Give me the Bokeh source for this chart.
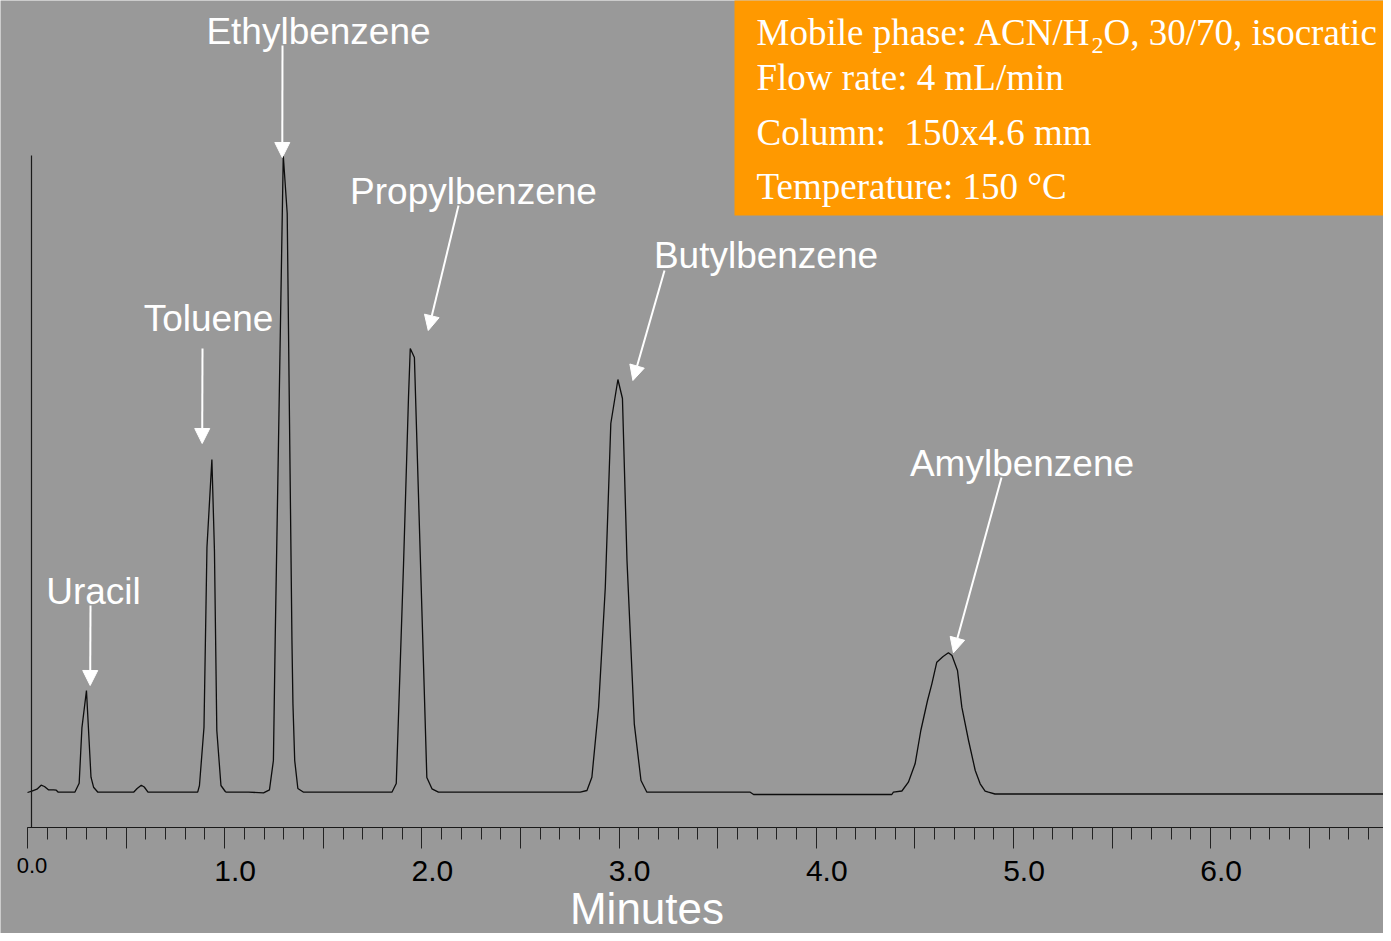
from bokeh.plotting import figure
from bokeh.models import (ColumnDataSource, Range1d, FixedTicker, LabelSet,
                          BoxAnnotation, Arrow, NormalHead, LinearAxis)
from bokeh.core.properties import value
from bokeh.embed import file_html
from bokeh.resources import INLINE

# ---------------- data ----------------
time_min = [0.000, 0.022, 0.048, 0.069, 0.086, 0.106, 0.132, 0.146, 0.156,
            0.240, 0.262, 0.276, 0.299, 0.322, 0.335, 0.357,
            0.538, 0.556, 0.577, 0.592, 0.611,
            0.863, 0.872, 0.895, 0.910, 0.935, 0.948, 0.960, 0.981, 1.003, 1.008,
            1.121, 1.197, 1.227, 1.247, 1.256, 1.297, 1.317, 1.341, 1.346, 1.355, 1.371, 1.400,
            1.848, 1.870, 1.907, 1.932, 1.941, 1.962, 1.983, 2.008, 2.025, 2.051, 2.084,
            2.803, 2.837, 2.862, 2.896, 2.930, 2.958, 2.994, 3.017, 3.040, 3.077, 3.111, 3.141,
            3.665, 3.682, 4.383, 4.391, 4.434, 4.467, 4.501, 4.530, 4.564, 4.586, 4.611,
            4.643, 4.670, 4.688, 4.716, 4.738, 4.772, 4.806, 4.831, 4.856, 4.873, 4.906, 6.920]
signal_mv = [0.00, 0.13, 0.33, 0.73, 0.60, 0.27, 0.27, 0.23, 0.03,
             0.03, 0.93, 6.47, 10.2, 1.53, 0.53, 0.03,
             0.03, 0.40, 0.73, 0.55, 0.03,
             0.03, 0.70, 6.53, 24.5, 33.3, 24.2, 6.2, 0.7, 0.1, 0.03,
             0.03, -0.03, 0.27, 3.2, 15.2, 63.7, 57.9, 15.2, 8.9, 3.2, 0.4, 0.03,
             0.03, 0.9, 22.9, 39.5, 44.4, 43.5, 29.5, 12.9, 1.5, 0.37, 0.03,
             0.03, 0.2, 1.53, 8.53, 20.5, 36.9, 41.3, 39.4, 23.2, 6.87, 1.2, 0.03,
             0.03, -0.2, -0.2, 0.03, 0.15, 1.03, 2.87, 6.2, 9.2, 10.87, 13.03,
             13.6, 13.97, 13.7, 12.2, 8.53, 5.2, 2.2, 0.87, 0.13, 0.03, -0.15, -0.15]

compounds = ["Uracil", "Toluene", "Ethylbenzene", "Propylbenzene", "Butylbenzene", "Amylbenzene"]
retention_min = [0.30, 0.93, 1.30, 1.94, 2.99, 4.67]

tick_values = [0, 1, 2, 3, 4, 5, 6]
tick_labels = ["0.0", "1.0", "2.0", "3.0", "4.0", "5.0", "6.0"]
x_title = "Minutes"

info_main = ["Mobile phase: ACN/H", "O, 30/70, isocratic", "Flow rate: 4 mL/min",
             "Column:\u00a0 150x4.6 mm", "Temperature: 150 \u00b0C"]
info_sub = ["2"]

# ---------------- layout (reference pixel positions) ----------------
W, H = 1383, 933
X0, PXM = 27.0, 197.2       # x pixel of t=0, pixels per minute
BASE, PYU = 792.0, 10.0     # y pixel of signal 0, pixels per unit


def dx(px):
    return (px - X0) / PXM


def dy(py):
    return (BASE - py) / PYU


label_pos_px = [(93, 603), (208, 330), (318, 43), (473, 203), (765.5, 267), (1021.5, 475)]
arrow_tail_px = [(90, 605), (202, 348), (282, 45), (458, 205), (664, 270), (1001, 477)]
tip_offset_px = [(3.7, -5), (-9.7, -16), (-1, 2), (18, -18), (15, 1), (5, 0)]

tick_label_xoff = [4.5, 10.5, 10.5, 10.5, 10.5, 10.5, 10.5]
tick_label_ypx = [872, 880, 880, 880, 880, 880, 880]
tick_label_size = ["22px", "30px", "30px", "30px", "30px", "30px", "30px"]

info_main_px = [(756, 44), (1103, 44), (756, 89), (756, 144), (756, 198)]
info_sub_px = [(1091, 52)]

BG = "#999999"
ORANGE = "#FF9900"
SANS = "Liberation Sans"
SERIF = "Liberation Serif"

p = figure(width=W, height=H,
           x_range=Range1d(dx(0), dx(W)), y_range=Range1d(dy(H), dy(0)),
           x_axis_location=None, y_axis_location=None,
           output_backend="svg", toolbar_location=None, title=None,
           min_border_left=0, min_border_right=0, min_border_top=0, min_border_bottom=0,
           background_fill_color=BG, border_fill_color=BG, outline_line_color=None)
p.grid.visible = False

# x axis: line at the bottom of the trace area, ticks hanging below it
maj = [i * 0.5 for i in range(15)]
mnr = [round(i * 0.1, 1) for i in range(70)]
xax = LinearAxis(ticker=FixedTicker(ticks=maj, minor_ticks=mnr),
                 fixed_location=dy(827), bounds=(0, 20),
                 major_label_overrides={m: "" for m in maj},
                 major_label_text_font_size="0px", major_label_standoff=0,
                 axis_line_color="#1a1a1a", axis_line_width=1.2,
                 major_tick_in=21, major_tick_out=0, minor_tick_in=12, minor_tick_out=0,
                 major_tick_line_color="#222222", minor_tick_line_color="#222222")
p.add_layout(xax, "above")

# y axis: bare vertical line
yax = LinearAxis(ticker=FixedTicker(ticks=[]), fixed_location=dx(31),
                 bounds=(dy(827), dy(155)),
                 major_label_text_font_size="0px", major_label_standoff=0,
                 axis_line_color="#1a1a1a", axis_line_width=1.2,
                 major_tick_in=0, major_tick_out=0, minor_tick_in=0, minor_tick_out=0)
p.add_layout(yax, "left")

# info box
p.add_layout(BoxAnnotation(left=dx(734), right=dx(1500), bottom=dy(215), top=dy(-20),
                           fill_color=ORANGE, fill_alpha=1.0, line_color=None, level="underlay"))

# chromatogram trace
p.line(time_min, signal_mv, line_color="#0d0d0d", line_width=1.3)

# compound labels and arrows
lab_src = ColumnDataSource(dict(x=[dx(a) for a, b in label_pos_px],
                                y=[dy(b) for a, b in label_pos_px],
                                text=compounds))
p.add_layout(LabelSet(x="x", y="y", text="text", source=lab_src,
                      text_font=value(SANS), text_font_size="37px",
                      text_color="white", text_align="center", text_baseline="alphabetic"))


def apex(rt):
    idx = [i for i in range(len(time_min)) if abs(time_min[i] - rt) < 0.06]
    i = max(idx, key=lambda k: signal_mv[k])
    return time_min[i], signal_mv[i]


for rt, tail, off in zip(retention_min, arrow_tail_px, tip_offset_px):
    at, asg = apex(rt)
    xe = at + off[0] / PXM
    ye = asg - off[1] / PYU
    p.add_layout(Arrow(x_start=dx(tail[0]), y_start=dy(tail[1]), x_end=xe, y_end=ye,
                       line_color="white", line_width=2,
                       end=NormalHead(size=15, fill_color="white", line_color="white", line_width=1)))

# tick labels
tk_src = ColumnDataSource(dict(x=tick_values, y=[dy(v) for v in tick_label_ypx], text=tick_labels,
                               xoff=tick_label_xoff, size=tick_label_size))
p.add_layout(LabelSet(x="x", y="y", text="text", source=tk_src, x_offset="xoff",
                      text_font=value(SANS), text_font_size="size",
                      text_color="black", text_align="center", text_baseline="alphabetic"))

# axis title
ttl_src = ColumnDataSource(dict(x=[dx(646.5)], y=[dy(923)], text=[x_title]))
p.add_layout(LabelSet(x="x", y="y", text="text", source=ttl_src,
                      text_font=value(SANS), text_font_size="44px",
                      text_color="white", text_align="center", text_baseline="alphabetic"))

# info box text
inf_src = ColumnDataSource(dict(x=[dx(a) for a, b in info_main_px],
                                y=[dy(b) for a, b in info_main_px], text=info_main))
p.add_layout(LabelSet(x="x", y="y", text="text", source=inf_src,
                      text_font=value(SERIF), text_font_size="37px",
                      text_color="white", text_align="left", text_baseline="alphabetic"))
sub_src = ColumnDataSource(dict(x=[dx(a) for a, b in info_sub_px],
                                y=[dy(b) for a, b in info_sub_px], text=info_sub))
p.add_layout(LabelSet(x="x", y="y", text="text", source=sub_src,
                      text_font=value(SERIF), text_font_size="24px",
                      text_color="white", text_align="left", text_baseline="alphabetic"))

open("out.html", "w").write(file_html(p, INLINE))
